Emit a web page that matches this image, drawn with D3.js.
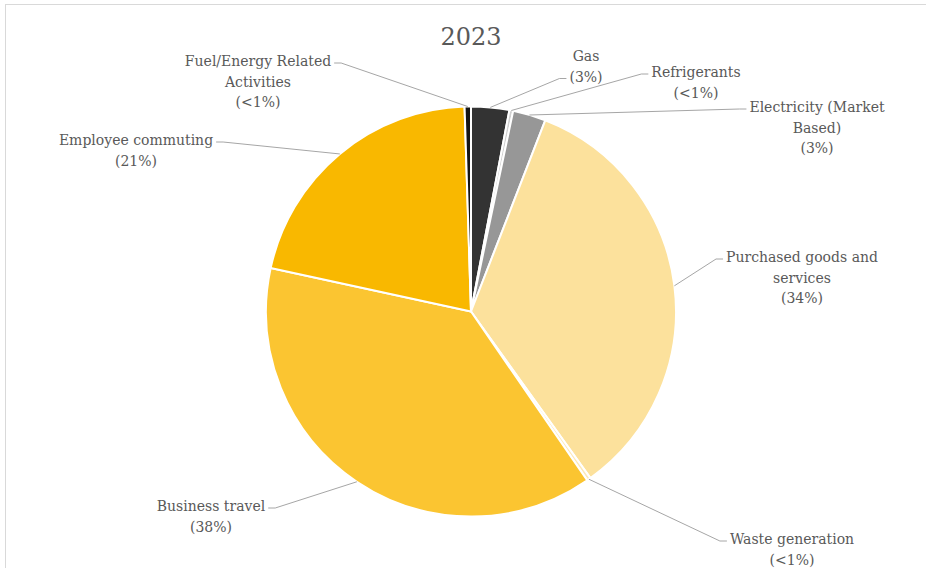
<!DOCTYPE html>
<html>
<head>
<meta charset="utf-8">
<script src="https://cdn.jsdelivr.net/npm/d3@7"></script>
<style>
  body { margin: 0; background: #fff; }
  text { font-family: "DejaVu Serif", serif; fill: #595959; }
</style>
</head>
<body>
<svg width="926" height="568"></svg>
<script>
// slices clockwise from 12 o'clock, as in the chart
var categories = ["Gas", "Refrigerants", "Electricity (Market Based)", "Purchased goods and services",
  "Waste generation", "Business travel", "Employee commuting", "Fuel/Energy Related Activities"];
var values = [3.0, 0.3, 2.6, 34.2, 0.3, 38.0, 21.1, 0.5];
var pctLabels = ["(3%)", "(<1%)", "(3%)", "(34%)", "(<1%)", "(38%)", "(21%)", "(<1%)"];
var colors = ["#333333", "#d0d0d0", "#979797", "#fce19c", "#fde9b8", "#fbc531", "#f9b800", "#151515"];

// how each label wraps in the picture
var labelLines = [["Gas"], ["Refrigerants"], ["Electricity (Market", "Based)"], ["Purchased goods and", "services"],
  ["Waste generation"], ["Business travel"], ["Employee commuting"], ["Fuel/Energy Related", "Activities"]];

// label layout: centre x, first baseline, side the leader joins, line the leader joins
var labelPos = [[586, 61, "l", 1], [696, 77, "l", 0], [817, 112, "l", 0], [802, 262, "l", 0],
  [792, 544, "l", 0], [211, 511, "r", 0], [136, 145, "r", 0], [258, 66, "r", 0]];

var svg = d3.select("svg"),
  cx = 471, cy = 311.5, radius = 205, lineH = 20.5;

// frame edges visible in the picture
svg.append("line").attr("x1", 5).attr("x2", 926).attr("y1", 4.5).attr("y2", 4.5)
  .attr("stroke", "#d9d9d9");
svg.append("line").attr("x1", 5.5).attr("x2", 5.5).attr("y1", 4).attr("y2", 568)
  .attr("stroke", "#d9d9d9");

svg.append("text")
  .attr("x", cx)
  .attr("y", 45)
  .attr("text-anchor", "middle")
  .style("font-size", "24px")
  .text("2023");

var data = categories.map(function(c, i) {
  return { name: c, value: values[i], pct: pctLabels[i], color: colors[i], lines: labelLines[i].concat([pctLabels[i]]), pos: labelPos[i] };
});

var pie = d3.pie().sort(null).value(function(d) { return d.value; });
var arc = d3.arc().innerRadius(0).outerRadius(radius);
var arcs = pie(data);

var g = svg.append("g").attr("transform", "translate(" + cx + "," + cy + ")");

g.selectAll("path.slice")
  .data(arcs)
  .enter()
  .append("path")
  .attr("class", "slice")
  .attr("d", arc)
  .attr("fill", function(d) { return d.data.color; })
  .attr("stroke", "#fff")
  .attr("stroke-width", 2)
  .attr("stroke-linejoin", "round");

var labels = svg.append("g");

arcs.forEach(function(a) {
  var d = a.data, p = d.pos;
  var t = labels.append("text")
    .attr("text-anchor", "middle")
    .style("font-size", "14px");
  var spans = [];
  d.lines.forEach(function(l, k) {
    spans.push(t.append("tspan").attr("x", p[0]).attr("y", p[1] + k * lineH).text(l));
  });

  // leader from the slice edge to the label
  var w = spans[p[3]].node().getComputedTextLength();
  var ay = p[1] + p[3] * lineH - 3;
  var ax = p[2] == "l" ? p[0] - w / 2 - 3 : p[0] + w / 2 + 3;
  var ex = p[2] == "l" ? ax - 7 : ax + 7;
  var mid = (a.startAngle + a.endAngle) / 2;
  var sx = cx + radius * Math.sin(mid), sy = cy - radius * Math.cos(mid);

  labels.insert("polyline", "text")
    .attr("points", [[sx, sy], [ex, ay], [ax, ay]].join(" "))
    .attr("fill", "none")
    .attr("stroke", "#a6a6a6")
    .attr("stroke-width", 1);
});
</script>
</body>
</html>
